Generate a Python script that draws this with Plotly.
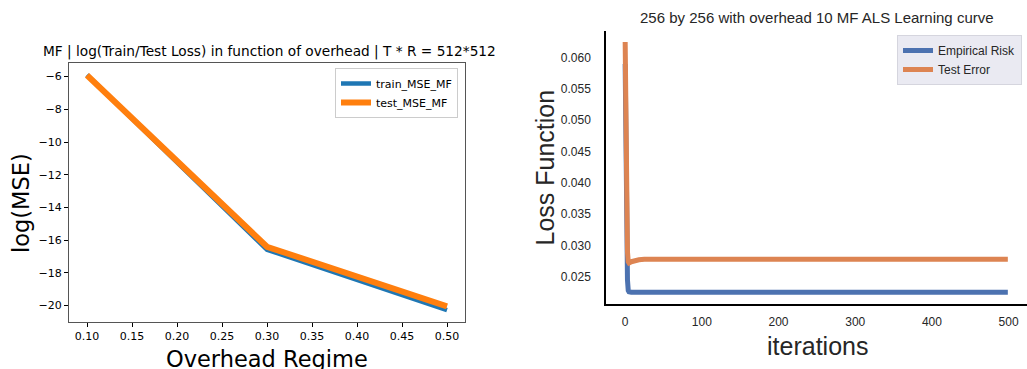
import plotly.graph_objects as go

W, H = 1027, 369

# ---- left chart data ----
overhead = [0.1, 0.3, 0.5]
train_mse_mf = [-5.9, -16.58, -20.28]
test_mse_mf = [-5.92, -16.4, -20.05]
left_xticks = [0.10, 0.15, 0.20, 0.25, 0.30, 0.35, 0.40, 0.45, 0.50]
left_yticks = [-20, -18, -16, -14, -12, -10, -8, -6]

# ---- right chart data ----
iterations = [0, 1, 2, 3, 4, 5, 8, 12, 18, 25, 40, 499]
empirical_risk = [0.0590, 0.0420, 0.0300, 0.0245, 0.0228, 0.0226, 0.0225, 0.0225, 0.0225, 0.0225, 0.0225, 0.0225]
test_error = [0.0625, 0.0460, 0.0340, 0.0290, 0.0274, 0.0272, 0.0274, 0.0276, 0.0277, 0.0278, 0.0278, 0.0278]
right_xticks = [0, 100, 200, 300, 400, 500]
right_yticks = [0.025, 0.030, 0.035, 0.040, 0.045, 0.050, 0.055, 0.060]


def px(x):
    return x / W


def py(y):
    return 1 - y / H


fig = go.Figure()

fig.add_trace(go.Scatter(x=overhead, y=train_mse_mf, mode="lines", name="train_MSE_MF",
                         line=dict(color="#1f77b4", width=4.5), xaxis="x", yaxis="y", legend="legend"))
fig.add_trace(go.Scatter(x=overhead, y=test_mse_mf, mode="lines", name="test_MSE_MF",
                         line=dict(color="#ff7f0e", width=6), xaxis="x", yaxis="y", legend="legend"))

fig.add_trace(go.Scatter(x=iterations, y=empirical_risk, mode="lines", name="Empirical Risk",
                         line=dict(color="#4c72b0", width=5), xaxis="x2", yaxis="y2", legend="legend2"))
fig.add_trace(go.Scatter(x=iterations, y=test_error, mode="lines", name="Test Error",
                         line=dict(color="#dd8452", width=5), xaxis="x2", yaxis="y2", legend="legend2"))

left_font = dict(family="DejaVu Sans", size=11, color="#000000")
right_font = dict(family="Liberation Sans, Arial", size=12, color="#262626")

fig.update_layout(
    width=W, height=H,
    margin=dict(l=0, r=0, t=0, b=0),
    paper_bgcolor="white", plot_bgcolor="white",
    xaxis=dict(domain=[px(69), px(465)], anchor="y", range=[0.08, 0.52],
               tickvals=left_xticks, tickformat=".2f", ticks="outside", ticklen=4,
               tickcolor="#000", tickwidth=1, showline=True, linecolor="#555", linewidth=1,
               mirror=True, showgrid=False, zeroline=False, tickfont=left_font),
    yaxis=dict(domain=[py(322), py(63)], anchor="x", range=[-21.0, -5.17],
               tickvals=left_yticks, ticks="outside", ticklen=4,
               tickcolor="#000", tickwidth=1, showline=True, linecolor="#555", linewidth=1,
               mirror=True, showgrid=False, zeroline=False, tickfont=left_font),
    xaxis2=dict(domain=[px(606), 1.0], anchor="y2", range=[-25, 524],
                tickvals=right_xticks, ticks="", showline=True, linecolor="#000", linewidth=1.5,
                showgrid=False, zeroline=False, tickfont=right_font, ticklabelstandoff=6),
    yaxis2=dict(domain=[py(304), py(31)], anchor="x2", range=[0.02064, 0.06427],
                tickvals=right_yticks, tickformat=".3f", ticks="", showline=True,
                linecolor="#000", linewidth=1.5, showgrid=False, zeroline=False,
                tickfont=right_font, ticklabelstandoff=11),
    legend=dict(x=px(458), y=py(68), xanchor="right", yanchor="top",
                bgcolor="rgba(255,255,255,0.8)", bordercolor="#cccccc", borderwidth=1,
                font=dict(family="DejaVu Sans", size=11, color="#000"),
                tracegroupgap=0, itemwidth=30),
    legend2=dict(x=px(1022), y=py(35), xanchor="right", yanchor="top",
                 bgcolor="#eaeaf2", bordercolor="#d5d5de", borderwidth=1,
                 font=dict(family="Liberation Sans, Arial", size=12, color="#262626"),
                 tracegroupgap=0, itemwidth=30),
    showlegend=True,
)

annotations = [
    dict(text="MF | log(Train/Test Loss) in function of overhead | T * R = 512*512",
         x=px(269), y=py(52), font=dict(family="DejaVu Sans", size=13.7, color="#000")),
    dict(text="log(MSE)", x=px(21), y=py(203), textangle=-90,
         font=dict(family="DejaVu Sans", size=22.5, color="#000")),
    dict(text="Overhead Regime", x=px(267), y=py(359),
         font=dict(family="DejaVu Sans", size=22.5, color="#000")),
    dict(text="256 by 256 with overhead 10 MF ALS Learning curve",
         x=px(817), y=py(17), font=dict(family="Liberation Sans, Arial", size=15, color="#262626")),
    dict(text="Loss Function", x=px(544), y=py(167.5), textangle=-90,
         font=dict(family="Liberation Sans, Arial", size=25, color="#262626")),
    dict(text="iterations", x=px(817), y=py(346),
         font=dict(family="Liberation Sans, Arial", size=25, color="#262626")),
]
for a in annotations:
    a.update(xref="paper", yref="paper", showarrow=False, xanchor="center", yanchor="middle")
fig.update_layout(annotations=annotations)

fig.write_html("out.html", config={"displayModeBar": False},
               post_script="document.body.style.margin='0';document.body.style.overflow='hidden';")
